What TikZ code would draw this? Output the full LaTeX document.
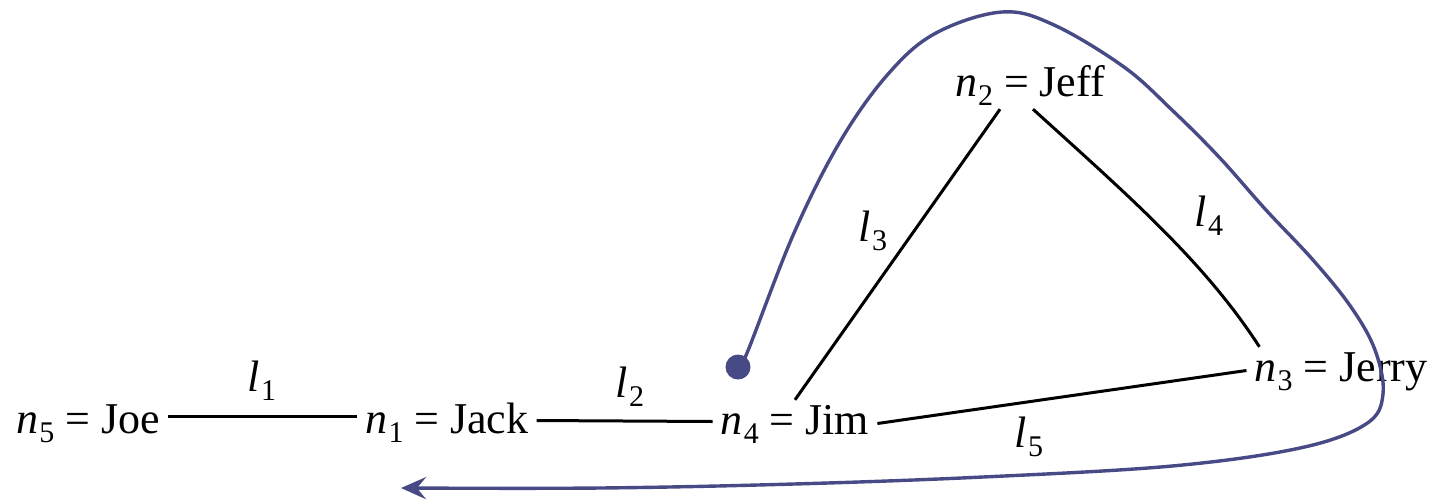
\documentclass[tikz,border=0pt]{standalone}
\usepackage{fontspec}
\setmainfont{Liberation Serif}
\usetikzlibrary{arrows.meta}
\definecolor{pen}{HTML}{474A85}
\newcommand\subx[1]{\raisebox{-9pt}{\fontsize{30}{30}\selectfont #1}}
\newcommand\nv[2]{\textit{n}\kern1pt\subx{#1} = #2}
\newcommand\lv[1]{\textit{l}\kern1pt\subx{#1}}
\begin{document}
\begin{tikzpicture}[x=1pt,y=-1pt,
  every node/.style={font=\fontsize{44}{50}\selectfont},
  vname/.style={inner xsep=8pt, inner ysep=4pt, text height=30pt, text depth=9pt, anchor=base},
  edge/.style={line width=3pt, black},
  elabel/.style={anchor=base, inner sep=0pt},
  hand/.style={pen, line width=3.4pt, line cap=round, line join=round}]
\useasboundingbox (0,0) rectangle (1434,499);

\node[vname] (n5) at (88,433) {\nv{5}{Joe}};
\node[vname] (n1) at (447,433) {\nv{1}{Jack}};
\node[vname] (n4) at (795,434) {\nv{4}{Jim}};
\node[vname] (n2) at (1030,96) {\nv{2}{Jeff}};
\node[vname] (n3) at (1341,381) {\nv{3}{Jerry}};

\draw[edge] ([yshift=6pt]n5.east) -- ([yshift=6pt]n1.west);
\draw[edge] ([yshift=2pt]n1.east) -- ([yshift=2pt]n4.west);
\draw[edge] ([xshift=-30pt]n2.south) -- (n4.north);
\draw[edge] ([xshift=3pt]n2.south) .. controls +(97,88) and +(-55,-85) .. ([xshift=13pt]n3.north west);
\draw[edge] (n4.east) -- (n3.west);

\node[elabel] (l1) at (262,391) {\lv{1}};
\node[elabel] (l2) at (630,397) {\lv{2}};
\node[elabel] (l3) at (873,241) {\lv{3}};
\node[elabel] (l4) at (1209,226) {\lv{4}};
\node[elabel] (l5) at (1029,447) {\lv{5}};

\node[circle, fill=pen, inner sep=0pt, minimum size=25pt] (dot) at (738,367) {};
\coordinate (tip) at (401,488);
\draw[hand, -{Stealth[length=25pt,width=22pt,inset=9pt]}]
  plot[smooth, tension=0.6] coordinates {(738,367) (747,353) (794,233) (841,140) (889,73) (936,33) (1002,12) (1054,25) (1124,67) (1172,110) (1219,157) (1266,210) (1313,260) (1351,307) (1375,350) (1383,394) (1366,424) (1300,448) (1172,466) (983,477) (794,484) (600,488) (401,488)};
\end{tikzpicture}
\end{document}
